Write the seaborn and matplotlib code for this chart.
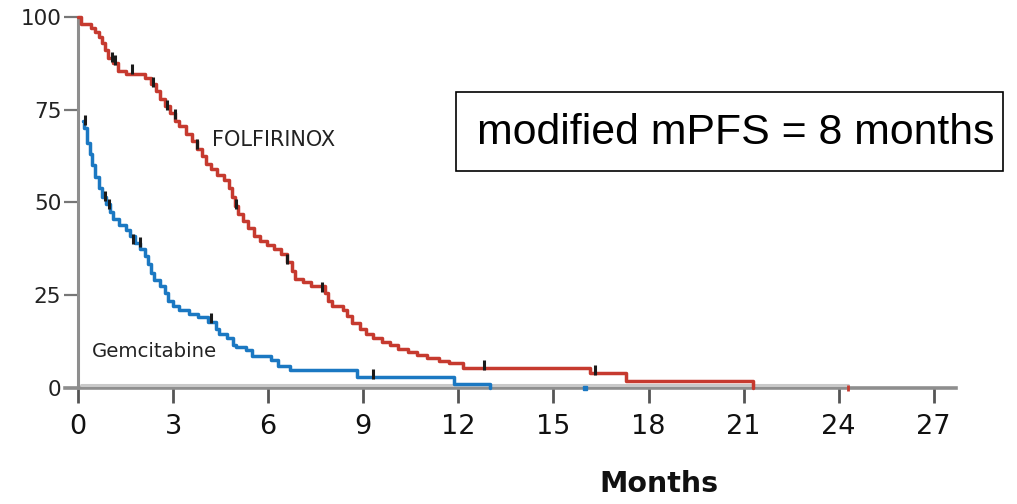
import numpy as np
import pandas as pd
import matplotlib
matplotlib.use("Agg")
import matplotlib.pyplot as plt
from matplotlib.patches import Rectangle
import seaborn as sns

# Kaplan-Meier step curves: time (months) where the estimate changes, and value after the step (%)
folfirinox_t = [0.0, 0.1, 0.4, 0.55, 0.65, 0.75, 0.85, 0.95, 1.1, 1.25, 1.5, 2.1, 2.3, 2.45, 2.6,
                2.75, 2.9, 3.05, 3.2, 3.4, 3.6, 3.75, 3.9, 4.05, 4.2, 4.4, 4.6, 4.75, 4.85,
                4.95, 5.05, 5.2, 5.35, 5.55, 5.75, 5.95, 6.2, 6.4, 6.6, 6.75, 6.85, 7.1, 7.35,
                7.8, 7.9, 8.0, 8.35, 8.5, 8.65, 8.9, 9.1, 9.3, 9.6, 9.85, 10.1, 10.4, 10.7,
                11.0, 11.4, 11.7, 12.15, 16.15, 17.3, 21.3]
folfirinox_s = [100, 98, 97, 96, 94.5, 93, 91, 89, 87.5, 85.5, 84.5, 83.5, 82, 80, 78,
                76, 74, 72, 70.5, 68.5, 66.5, 64.5, 62.5, 60.5, 59, 57.5, 56, 54, 51.5,
                49, 47, 45, 43, 41, 39.5, 38.5, 37.5, 36, 34, 31.5, 29.5, 28.5, 27.5,
                25.5, 23.5, 22, 21, 19.5, 17.5, 16, 14.5, 13.5, 12.5, 11.5, 10.5, 9.6, 8.8,
                8.0, 7.3, 6.7, 5.4, 4.0, 1.9, 0]

gemcitabine_t = [0.15, 0.2, 0.3, 0.38, 0.45, 0.55, 0.65, 0.75, 0.9, 1.0, 1.1, 1.3, 1.5,
                 1.65, 1.8, 1.95, 2.1, 2.2, 2.3, 2.4, 2.6, 2.75, 2.85, 3.0, 3.2, 3.5, 3.8,
                 4.1, 4.35, 4.45, 4.7, 4.9, 5.0, 5.3, 5.5, 6.1, 6.3, 6.7, 8.8, 11.85, 13.0]
gemcitabine_s = [72, 70, 66, 63, 60, 57, 54, 51.5, 49.5, 47.5, 45.5, 44, 42.5,
                 41, 39, 37.5, 35.5, 33.5, 31, 29, 27.5, 25.5, 23.5, 22, 21, 20, 19,
                 17.8, 16, 14.5, 13.5, 11.5, 11, 10.2, 8.5, 7.5, 5.8, 4.9, 3.0, 1.1, 0]

# Censored observations (time, value)
folfirinox_cens_t = [1.07, 1.17, 1.7, 2.37, 2.8, 3.06, 3.75, 5.0, 6.6, 7.7, 12.8, 16.3]
folfirinox_cens_s = [88.4, 87.6, 85.2, 81.7, 75.5, 73, 65, 48.8, 34, 26.4, 5.4, 4.0]
gemcitabine_cens_t = [0.22, 0.85, 0.98, 1.74, 1.96, 4.2, 9.3]
gemcitabine_cens_s = [71.4, 51, 48.8, 39.4, 38.5, 18.0, 3.0]
# censored at the floor
tail_cens_t = [16.0, 24.3]

x_ticks = [0, 3, 6, 9, 12, 15, 18, 21, 24, 27]
y_ticks = [0, 25, 50, 75, 100]
y_ticklabels = ["0", "25", "50", "75", "100"]

RED = "#c63a2f"
BLUE = "#1b78c2"
AXIS_GREY = "#8e8e8e"

sns.set_style("white")
plt.rcParams["font.family"] = ["DejaVu Sans"]

fig = plt.figure(figsize=(10.17, 5.04), dpi=100)
ax = fig.add_axes([0.0642, 0.2302, 0.8758, 0.7361])

# spine placement first: repositioning a spine resets its axis ticks
ax.spines["top"].set_visible(False)
ax.spines["right"].set_visible(False)
ax.spines["left"].set_position(("data", 0))
ax.spines["left"].set_color(AXIS_GREY)
ax.spines["left"].set_linewidth(2.2)
ax.spines["bottom"].set_color(AXIS_GREY)
ax.spines["bottom"].set_linewidth(2.6)
ax.spines["bottom"].set_zorder(1)

df_f = pd.DataFrame({"t": folfirinox_t, "s": folfirinox_s})
df_g = pd.DataFrame({"t": gemcitabine_t, "s": gemcitabine_s})

sns.lineplot(data=df_f, x="t", y="s", ax=ax, color=RED, lw=2.5,
             drawstyle="steps-post", estimator=None, sort=False, zorder=3, clip_on=False)
sns.lineplot(data=df_g, x="t", y="s", ax=ax, color=BLUE, lw=2.5,
             drawstyle="steps-post", estimator=None, sort=False, zorder=3, clip_on=False)

# censor ticks
sns.scatterplot(x=folfirinox_cens_t, y=np.array(folfirinox_cens_s) + 0.8, ax=ax, marker="|",
                s=60, linewidth=2.2, color="#1a1a1a", zorder=4)
sns.scatterplot(x=gemcitabine_cens_t, y=np.array(gemcitabine_cens_s) + 0.8, ax=ax, marker="|",
                s=60, linewidth=2.2, color="#1a1a1a", zorder=4)
ax.plot([tail_cens_t[0]], [0], marker="s", ms=3.5, color=BLUE, zorder=5, clip_on=False)
ax.plot([tail_cens_t[1]], [0], marker="|", ms=5, mew=2, color=RED, zorder=5, clip_on=False)

# light floor line of the curves at zero
ax.plot([0.1, 24.3], [0.8, 0.8], color="#c9c9c9", lw=2.2, zorder=2, clip_on=False)

ax.set_xlim(-0.4, 27.7)
ax.set_ylim(0, 100)
ax.set_xticks(x_ticks)
ax.set_xticklabels([str(v) for v in x_ticks], fontsize=19.5, color="#111111")
ax.set_yticks(y_ticks)
ax.set_yticklabels(y_ticklabels, fontsize=15.5, color="#222222")

ax.tick_params(axis="x", direction="out", length=11, width=2, color="#555555", pad=8, bottom=True)
ax.tick_params(axis="y", direction="out", length=10, width=1.6, color="#777777", pad=2, left=True)

ax.set_xlabel("Months", fontsize=20.5, fontweight="bold", color="#111111")
ax.xaxis.set_label_coords((659 - 65.3) / (956 - 65.3), -0.22)
ax.set_ylabel("")

ax.text(4.23, 66.8, "FOLFIRINOX", fontsize=15, color="#222222", va="center", ha="left")
ax.text(0.44, 9.7, "Gemcitabine", fontsize=14.2, color="#222222", va="center", ha="left")

# annotation box
box = Rectangle((456 / 1017, 1 - 171 / 504), (1003 - 456) / 1017, (171 - 92) / 504,
                transform=fig.transFigure, facecolor="white", edgecolor="black", lw=1.2, zorder=5)
fig.patches.append(box)
fig.text(477 / 1017, 1 - 133 / 504, "modified mPFS = 8 months", fontsize=30.8,
         family=["Liberation Sans", "DejaVu Sans"], color="black", va="center", ha="left", zorder=6)

fig.savefig("out.png", dpi=100)
